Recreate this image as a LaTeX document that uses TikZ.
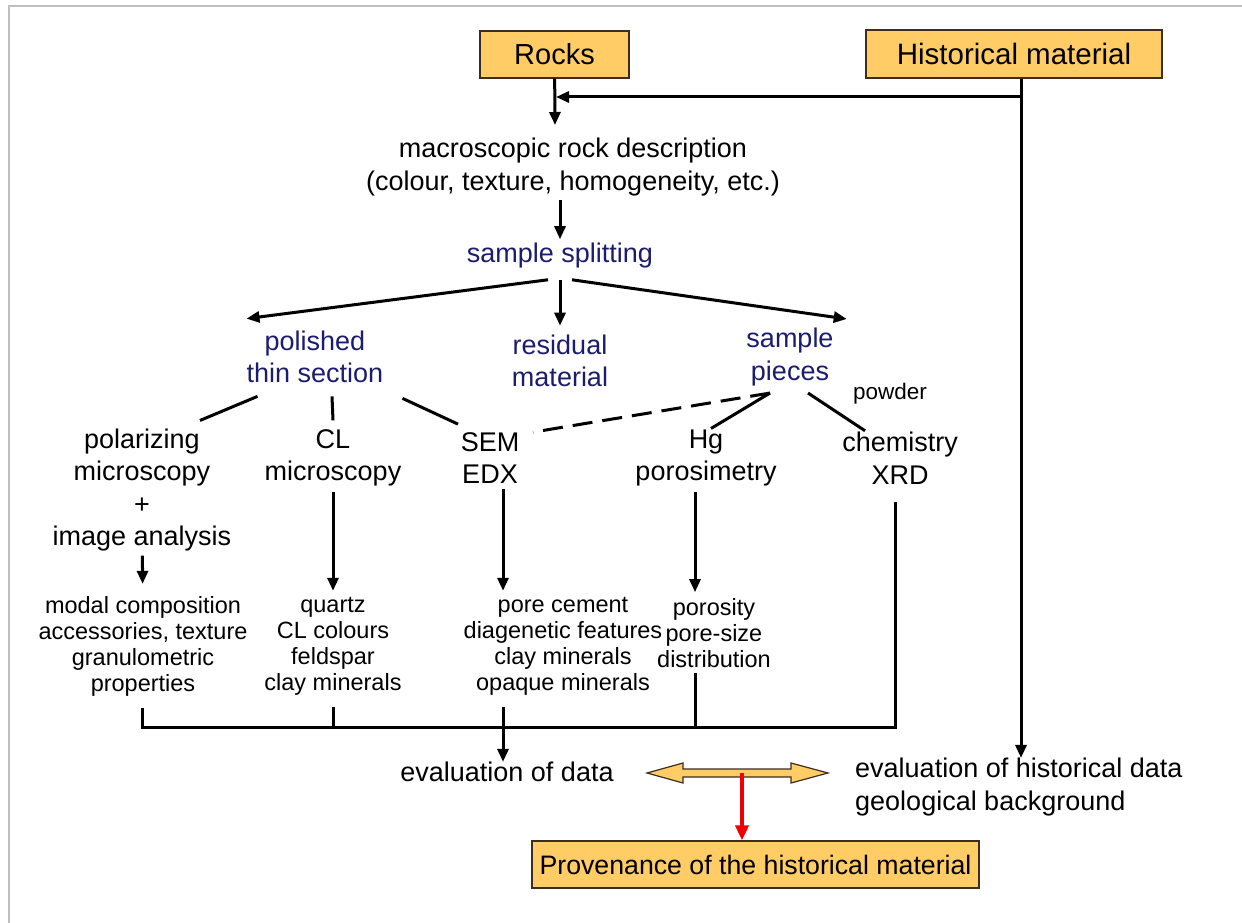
\documentclass[tikz,border=0pt]{standalone}
\usepackage{fontspec}
\setmainfont{Liberation Sans}
\usepackage{xcolor}
\usepackage{tikz}
\usetikzlibrary{arrows.meta}
\definecolor{boxfill}{RGB}{255,204,102}
\definecolor{boxline}{RGB}{60,45,30}
\definecolor{stagecol}{RGB}{28,28,110}
\definecolor{provred}{RGB}{240,0,0}

\begin{document}
\begin{tikzpicture}[x=1pt, y=-1pt,
  txt/.style={align=center, inner sep=0pt, font=\fontsize{27}{32.5}\selectfont},
  sm/.style={align=center, inner sep=0pt, font=\fontsize{23.5}{26}\selectfont},
  stage/.style={txt, text=stagecol},
  box/.style={draw=boxline, line width=1.2pt, fill=boxfill, inner sep=0pt},
  wire/.style={line width=3pt},
  arr/.style={wire, -{Triangle[length=13pt,width=11pt]}}]
\useasboundingbox (0,0) rectangle (1242,923);
\draw[gray!50, line width=2.5pt] (9,923) -- (9,6) -- (1242,6);

% boxes and texts
\node[box, minimum width=149pt, minimum height=47pt, font=\fontsize{29}{32}\selectfont] (rocks) at (554.5,54.5) {Rocks};
\node[box, minimum width=296pt, minimum height=48pt, font=\fontsize{29.5}{32}\selectfont] (hist) at (1014,54) {Historical material};
\node[txt] (macro) at (573,167) {macroscopic rock description\\(colour, texture, homogeneity, etc.)};
\node[stage] (split) at (560,256) {sample splitting};
\node[stage] (polished) at (315,357) {polished\\thin section};
\node[stage] (residual) at (560,361) {residual\\material};
\node[stage] (pieces) at (790,357) {sample\\pieces};
\node[txt] (polar) at (142,490) {polarizing\\microscopy\\+\\image analysis};
\node[txt] (cl) at (333,458) {CL\\microscopy};
\node[txt] (sem) at (490,458) {SEM\\EDX};
\node[txt] (hg) at (706,458) {Hg\\porosimetry};
\node[txt] (chem) at (900,458) {chemistry\\XRD};
\node[inner sep=0pt, font=\fontsize{22.5}{26}\selectfont] (powder) at (890,394) {powder};
\node[sm] (modal) at (143,646) {modal composition\\accessories, texture\\granulometric\\properties};
\node[sm] (quartz) at (333,646) {quartz\\CL colours\\feldspar\\clay minerals};
\node[sm] (pore) at (563,646) {pore cement\\diagenetic features\\clay minerals\\opaque minerals};
\node[sm] (poros) at (714,633) {porosity\\pore-size\\distribution};
\node[txt] (evaldata) at (507,772) {evaluation of data};
\node[txt, align=left, anchor=west] (evalhist) at (855,787) {evaluation of historical data\\geological background};
\node[box, minimum width=447pt, minimum height=47pt, font=\fontsize{26.7}{32}\selectfont] (prov) at (755.5,864.5) {Provenance of the historical material};

% junctions
\coordinate (mtop) at (555,125);
\coordinate (hj) at (1021,97);
\coordinate (ej) at (503,727);
\coordinate (pj) at (695,727);
\coordinate (bl) at (142,727);
\coordinate (br) at (895,727);
\coordinate (mid) at (742,773);

% top part
\draw[arr] (rocks) -- (mtop);
\draw[wire] (hist.south -| hj) -- (hj);
\draw[arr, shorten >=1.5pt] (hj) -- (rocks.south |- hj);
\draw[arr] (hj) -- (hj |- evalhist.north);
\draw[arr, shorten <=4pt, shorten >=4pt] (macro.south -| split) -- (split);

% splitting
\draw[arr] ([xshift=-12pt,yshift=-11pt]split.south) -- ([yshift=12pt]polished.north west);
\draw[arr] ([yshift=-11pt]split.south) -- ([yshift=9pt]residual.north);
\draw[arr] ([xshift=12pt,yshift=-11pt]split.south) -- ([xshift=13pt,yshift=9pt]pieces.north east);

% methods
\draw[wire] ([xshift=11pt,yshift=-13pt]polished.south west) -- ([xshift=58pt,yshift=8pt]polar.north);
\draw[wire] ([xshift=17pt,yshift=-13pt]polished.south) -- ([yshift=9pt]cl.north);
\draw[wire] ([xshift=19pt,yshift=-15pt]polished.south east) -- ([xshift=-32pt,yshift=8pt]sem.north);
\draw[wire, dash pattern=on 20pt off 10pt] ([xshift=-20pt,yshift=-7pt]pieces.south) -- ([xshift=43pt,yshift=0pt]sem.north);
\draw[wire] ([xshift=-20pt,yshift=-7pt]pieces.south) -- ([xshift=5pt,yshift=1pt]hg.north);
\draw[wire] ([xshift=18pt,yshift=-7pt]pieces.south) -- ([xshift=-35pt,yshift=1pt]chem.north);

% results
\draw[arr, shorten <=4pt, shorten >=12pt] (polar) -- (modal);
\draw[arr, shorten <=5pt, shorten >=6pt] (cl) -- (quartz);
\draw[arr, shorten <=5pt, shorten >=6pt] (sem.south -| ej) -- (pore.north -| ej);
\draw[arr, shorten <=5pt, shorten >=6pt] (hg.south -| pj) -- (poros.north -| pj);

% collecting bar
\draw[wire, shorten <=12pt, shorten >=18pt] (modal.south -| bl) -- (bl) -- (br) -- (chem.south -| br);
\draw[wire, shorten <=12pt] (quartz.south) -- (quartz.south |- bl);
\draw[wire, shorten <=5pt] (poros.south -| pj) -- (pj);
\draw[arr, shorten <=12pt] (pore.south -| ej) -- (ej |- evaldata.north);

% comparison and provenance
\draw[fill=boxfill, draw=boxline, line width=1.2pt] (647,773) -- (683,763) -- (683,769) -- (791,769) -- (791,763) -- (828,773) -- (791,783) -- (791,777) -- (683,777) -- (683,783) -- cycle;
\draw[provred, line width=4pt, -{Triangle[length=15pt,width=13pt]}] (mid) -- (mid |- prov.north);
\end{tikzpicture}
\end{document}
